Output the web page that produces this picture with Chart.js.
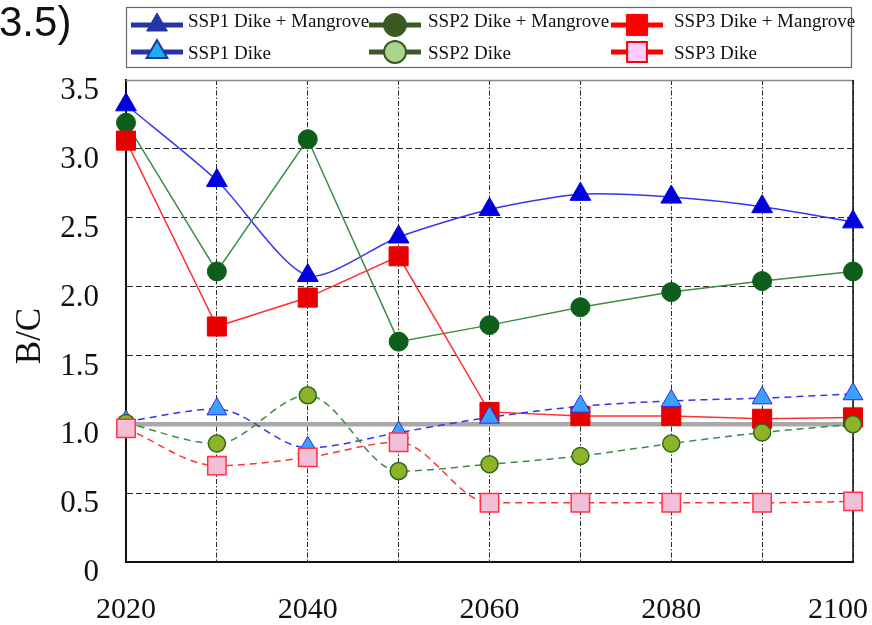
<!DOCTYPE html>
<html>
<head>
<meta charset="utf-8">
<script src="https://cdn.jsdelivr.net/npm/chart.js@4.4.1/dist/chart.umd.min.js"></script>
<style>
  html, body { margin: 0; padding: 0; background: #fff; }
  #wrap { position: relative; width: 872px; height: 625px; }
</style>
</head>
<body>
<div id="wrap"><canvas id="bcChart" width="872" height="625"></canvas></div>
<script>
// -------------------- Data -------------------- //
const years = ['2020', '2030', '2040', '2050', '2060', '2070', '2080', '2090', '2100'];

const ssp1DikeMangrove = [3.32, 2.77, 2.08, 2.36, 2.56, 2.67, 2.65, 2.58, 2.47];
const ssp2DikeMangrove = [3.19, 2.11, 3.07, 1.60, 1.72, 1.85, 1.96, 2.04, 2.11];
const ssp3DikeMangrove = [3.06, 1.71, 1.92, 2.22, 1.09, 1.06, 1.06, 1.04, 1.05];
const ssp1Dike = [1.02, 1.11, 0.83, 0.94, 1.05, 1.13, 1.17, 1.19, 1.22];
const ssp2Dike = [1.01, 0.86, 1.21, 0.66, 0.71, 0.77, 0.86, 0.94, 1.00];
const ssp3Dike = [0.97, 0.70, 0.76, 0.87, 0.43, 0.43, 0.43, 0.43, 0.44];

const breakEven = 1.0;   // grey B/C = 1 line
const yMin = 0, yMax = 3.5, yStep = 0.5;

const serif = "'Liberation Serif', 'Times New Roman', serif";

// -------------------- Series -------------------- //
function makeSeries(label, data, style, legend) {
	return {
		label: label,
		data: data,
		borderColor: style.line,
		borderWidth: 1.5,
		borderDash: style.dash || [],
		tension: style.tension || 0,
		cubicInterpolationMode: style.mono ? 'monotone' : 'default',
		pointStyle: style.marker,
		pointRadius: style.radius,
		pointHoverRadius: style.radius,
		pointBackgroundColor: style.fill,
		pointBorderColor: style.edge,
		pointBorderWidth: style.edgeWidth || 1,
		order: style.order,
		legend: legend,
	};
}

const datasets = [
	makeSeries('SSP1 Dike + Mangrove', ssp1DikeMangrove,
		{ line: '#3535f0', marker: 'triangle', radius: 12, fill: '#0000dd', edge: '#0000dd', tension: 0.25, order: 6 },
		{ col: 0, row: 0, line: '#2436a6', fill: '#2436a6', edge: '#2436a6', radius: 12 }),
	makeSeries('SSP2 Dike + Mangrove', ssp2DikeMangrove,
		{ line: '#3d8b46', marker: 'circle', radius: 9.5, fill: '#0e5e1b', edge: '#0e5e1b', order: 5 },
		{ col: 1, row: 0, line: '#3a5a22', fill: '#3a5a22', edge: '#3a5a22', radius: 11.5 }),
	makeSeries('SSP3 Dike + Mangrove', ssp3DikeMangrove,
		{ line: '#ff3030', marker: 'rect', radius: 13.5, fill: '#e60000', edge: '#e60000', order: 4 },
		{ col: 2, row: 0, line: '#ff0000', fill: '#ff0000', edge: '#ff0000', radius: 15 }),
	makeSeries('SSP1 Dike', ssp1Dike,
		{ line: '#3434ee', dash: [7, 5], marker: 'triangle', radius: 11.5, fill: '#3ba0ff', edge: '#2a2ae0', tension: 0.4, mono: true, order: 3 },
		{ col: 0, row: 1, line: '#2436a6', fill: '#18b0f0', edge: '#2436a6', radius: 12, edgeWidth: 2 }),
	makeSeries('SSP2 Dike', ssp2Dike,
		{ line: '#3d8b46', dash: [7, 5], marker: 'circle', radius: 8.5, fill: '#8db32a', edge: '#2d6b1a', edgeWidth: 1.5, tension: 0.4, mono: true, order: 2 },
		{ col: 1, row: 1, line: '#3a5a22', fill: '#a8d48c', edge: '#3a5a22', radius: 11, edgeWidth: 2 }),
	makeSeries('SSP3 Dike', ssp3Dike,
		{ line: '#ff3333', dash: [7, 5], marker: 'rect', radius: 13, fill: '#f2bfd9', edge: '#ff3344', edgeWidth: 1.5, tension: 0.4, mono: true, order: 1 },
		{ col: 2, row: 1, line: '#ff0000', fill: '#ffccff', edge: '#ff0000', radius: 14, edgeWidth: 2 }),
	{
		label: 'B/C = 1',
		data: years.map(() => breakEven),
		borderColor: '#a9a9a9',
		borderWidth: 4.5,
		pointRadius: 0,
		pointHoverRadius: 0,
		order: 7,
	},
];

// -------------------- Plugins: frame, boxed legend, loose texts -------------------- //
// legend column marker centres / text starts, row baselines
const legendCols = [{ mark: 157, text: 188 }, { mark: 395, text: 428 }, { mark: 637, text: 674 }];
const legendRows = [{ mark: 25, text: 27 }, { mark: 52, text: 59 }];

const framePlugin = {
	id: 'frame',
	beforeDatasetsDraw(chart) {
		const { ctx, chartArea: a } = chart;
		ctx.save();
		ctx.lineWidth = 1.5;
		ctx.strokeStyle = '#888';
		ctx.beginPath(); ctx.moveTo(a.left, a.top + 0.5); ctx.lineTo(a.right, a.top + 0.5); ctx.stroke();
		ctx.strokeStyle = '#111';
		ctx.beginPath(); ctx.moveTo(a.right, a.top); ctx.lineTo(a.right, a.bottom); ctx.stroke();
		ctx.restore();
	}
};

const legendPlugin = {
	id: 'boxLegend',
	afterDraw(chart) {
		const ctx = chart.ctx;
		ctx.save();
		ctx.strokeStyle = '#666';
		ctx.lineWidth = 1.2;
		ctx.strokeRect(126.5, 7.5, 725, 60);

		chart.data.datasets.forEach(ds => {
			if (!ds.legend) return;
			const lg = ds.legend;
			const cx = legendCols[lg.col].mark;
			const cy = legendRows[lg.row].mark;

			ctx.setLineDash([]);
			ctx.strokeStyle = lg.line;
			ctx.lineWidth = 5;
			ctx.beginPath(); ctx.moveTo(cx - 26, cy); ctx.lineTo(cx + 26, cy); ctx.stroke();

			ctx.fillStyle = lg.fill;
			ctx.strokeStyle = lg.edge;
			ctx.lineWidth = lg.edgeWidth || 1;
			Chart.helpers.drawPoint(ctx, { pointStyle: ds.pointStyle, radius: lg.radius, rotation: 0, borderWidth: lg.edgeWidth || 1 }, cx, cy);

			ctx.fillStyle = '#111';
			ctx.font = '19px ' + serif;
			ctx.textAlign = 'left';
			ctx.textBaseline = 'alphabetic';
			ctx.fillText(ds.label, legendCols[lg.col].text, legendRows[lg.row].text);
		});

		// y axis title
		ctx.save();
		ctx.translate(31, 336);
		ctx.rotate(-Math.PI / 2);
		ctx.font = '35px ' + serif;
		ctx.textAlign = 'center';
		ctx.textBaseline = 'middle';
		ctx.fillStyle = '#111';
		ctx.fillText('B/C', 0, 0);
		ctx.restore();

		// panel tag, cut at the left edge as in the figure
		ctx.font = "42px 'Liberation Sans', Arial, sans-serif";
		ctx.textAlign = 'left';
		ctx.textBaseline = 'alphabetic';
		ctx.fillStyle = '#111';
		ctx.fillText('3.5)', -1, 36);
		ctx.restore();
	}
};

// -------------------- Chart -------------------- //
new Chart(document.getElementById('bcChart'), {
	type: 'line',
	data: { labels: years, datasets: datasets },
	plugins: [framePlugin, legendPlugin],
	options: {
		responsive: false,
		animation: false,
		layout: { padding: { top: 80, right: 19, left: 0, bottom: 0 } },
		plugins: { legend: { display: false }, tooltip: { enabled: false } },
		scales: {
			x: {
				type: 'category',
				offset: false,
				grid: { color: '#2a2a2a', lineWidth: 1, drawTicks: false },
				border: { display: true, color: '#111', width: 2, dash: [5, 2, 1.5, 2] },
				ticks: {
					autoSkip: false,
					maxRotation: 0,
					padding: 30,
					color: '#111',
					font: { family: serif, size: 30 },
					callback: function (value, index, ticks) {
						const y = this.getLabelForValue(value);
						if ((parseInt(y) - 2020) % 20 !== 0) return '';
						// the last label sits inside the frame in the figure
						return index === ticks.length - 1 ? y + '\u2002\u2002' : y;
					}
				},
				afterFit(scale) { scale.height = 63; scale.paddingLeft = 0; scale.paddingRight = 0; }
			},
			y: {
				min: yMin,
				max: yMax,
				grid: { color: '#2a2a2a', lineWidth: 1, drawTicks: false },
				border: { display: true, color: '#111', width: 2, dash: [6, 3] },
				ticks: {
					stepSize: yStep,
					padding: 27,
					labelOffset: 11,
					color: '#111',
					font: { family: serif, size: 31 },
					callback: v => v === 0 ? '0' : v.toFixed(1)
				},
				afterFit(scale) { scale.width = 126; }
			}
		}
	}
});
</script>
</body>
</html>
